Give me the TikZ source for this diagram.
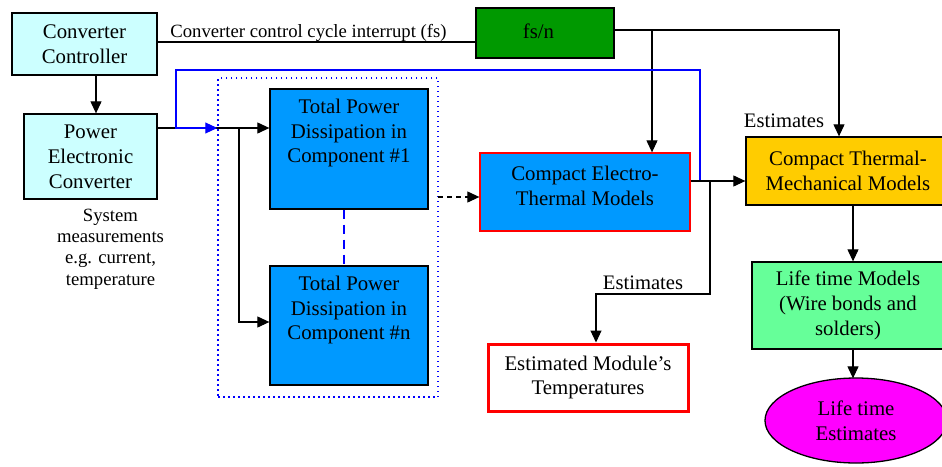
\documentclass[tikz,border=0pt]{standalone}
\usepackage{fontspec}
\setmainfont{Liberation Serif}
\usetikzlibrary{arrows.meta,shapes.geometric}
\definecolor{lcyan}{HTML}{CCFFFF}
\definecolor{fsgreen}{HTML}{009900}
\definecolor{tblue}{HTML}{0099FF}
\definecolor{cyellow}{HTML}{FFCC00}
\definecolor{lgreen}{HTML}{66FF99}
\definecolor{lmagenta}{HTML}{FF00FF}
\begin{document}
\begin{tikzpicture}[x=1pt,y=-1pt,
  box/.style={draw=black, line width=1.3pt, inner sep=0pt, align=center, font=\fontsize{20.8}{24.8}\selectfont},
  txt/.style={inner sep=0pt, align=center, font=\fontsize{20.8}{24.8}\selectfont},
  lblbig/.style={inner sep=0pt, font=\fontsize{20.6}{24}\selectfont},
  lblsmall/.style={inner sep=0pt, align=center, font=\fontsize{18.7}{21.2}\selectfont},
  arr/.style={-{Triangle[length=12pt,width=11pt]}, line width=1.1pt},
  conn/.style={line width=1.1pt}]
\useasboundingbox (0,0) rectangle (942,466);

% boxes
\node[box, fill=lcyan, minimum width=145pt, minimum height=62pt] (cc) at (84.5,44) {Converter\\Controller};
\node[box, fill=lcyan, minimum width=133pt, minimum height=85pt] (pec) at (90.5,156.5) {Power\\Electronic\\Converter};
\node[box, fill=fsgreen, minimum width=138pt, minimum height=50pt] (fsn) at (545,33) {};
\node[txt] (fsnt) at (538.5,31) {fs/n};
\node[draw=blue, line width=1.5pt, dash pattern=on 1.5pt off 3.5pt, inner sep=0pt, minimum width=220pt, minimum height=319pt] (grp) at (328,237.5) {};
\node[box, fill=tblue, minimum width=158pt, minimum height=120pt] (tp1) at (349,149) {};
\node[txt] (tp1t) at (349,133) {Total Power\\Dissipation in\\Component \#1};
\node[box, fill=tblue, minimum width=158pt, minimum height=119pt] (tpn) at (349,325.5) {};
\node[txt] (tpnt) at (349,310) {Total Power\\Dissipation in\\Component \#n};
\node[box, fill=tblue, draw=red, minimum width=210pt, minimum height=78pt] (et) at (585,192) {};
\node[txt] (ett) at (585,186) {Compact Electro-\\Thermal Models};
\node[box, fill=white, draw=red, line width=3pt, minimum width=200pt, minimum height=67pt] (emt) at (588,377.5) {Estimated Module’s\\Temperatures};
\node[box, fill=cyellow, minimum width=204pt, minimum height=68pt] (ctm) at (848,171) {Compact Thermal-\\Mechanical Models};
\node[box, fill=lgreen, minimum width=192pt, minimum height=87pt] (ltm) at (848,305.5) {Life time Models\\(Wire bonds and\\solders)};
\node[box, ellipse, fill=lmagenta, minimum width=182pt, minimum height=85pt] (lte) at (856,420.5) {Life time\\Estimates};

% labels
\node[lblsmall] (sys) at (110.5,249) {System\\measurements\\e.g. current,\\temperature};
\node[lblsmall, anchor=base] (ccl) at (308.5,37) {Converter control cycle interrupt (fs)};
\node[lblbig, anchor=base] (est1) at (643,289) {Estimates};
\node[lblbig, anchor=base] (est2) at (784,127) {Estimates};

% coordinates
\coordinate (j1) at (652,30);
\coordinate (j2) at (839,30);
\coordinate (j3) at (176,128);
\coordinate (j5) at (239,128);
\coordinate (j6) at (239,322);
\coordinate (j7) at (700,181);
\coordinate (j8) at (700,70);
\coordinate (j9) at (176,70);
\coordinate (j10) at (438,197);
\coordinate (j11) at (710,181);
\coordinate (j12) at (710,294);
\coordinate (j13) at (596,294);
\coordinate (j14) at (853,0);

% connectors
\draw[arr] ([xshift=11.5pt]cc.south) -- ([xshift=5.5pt]pec.north);
\draw[conn] ([yshift=2pt]cc.east) -- ([yshift=-9pt]fsn.west);
\draw[arr] ([yshift=3pt]fsn.east) -- (j2) -- (j2 |- ctm.north);
\draw[arr] (j1) -- (j1 |- et.north);
\draw[arr] (pec.east |- j3) -- (j3 -| tp1.west);
\draw[arr] (j5) -- (j6) -- (j6 -| tpn.west);
\draw[arr, blue] (j7) -- (j8) -- (j9) -- (j3) -- (j3 -| grp.west);
\draw[blue, line width=2.5pt, dash pattern=on 9pt off 6pt] ([xshift=-5pt]tp1.south) -- ([xshift=-5pt]tpn.north);
\draw[arr, dash pattern=on 5pt off 4pt] (j10) -- (j10 -| et.west);
\draw[arr] (et.east |- j7) -- (j7 -| ctm.west);
\draw[arr] (j11) -- (j12) -- (j13) -- (j13 |- emt.north);
\draw[arr] (ctm.south -| j14) -- (ltm.north -| j14);
\draw[arr] (ltm.south -| j14) -- ([yshift=-1pt]lte.north -| j14);
\end{tikzpicture}
\end{document}
